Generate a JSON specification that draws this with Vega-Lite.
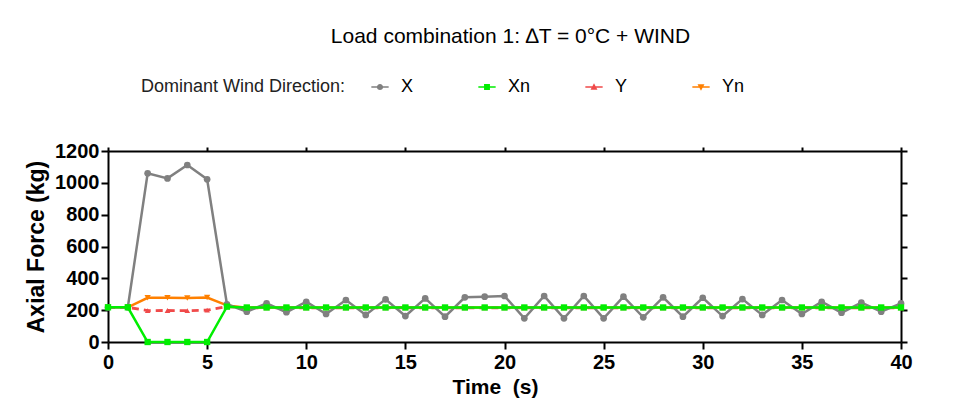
{
  "$schema": "https://vega.github.io/schema/vega-lite/v6.json",
  "width": 793,
  "height": 191,
  "autosize": {"type": "none"},
  "padding": {"left": 108, "top": 151, "right": 52, "bottom": 65},
  "background": "white",
  "title": {"text": "Load combination 1: ∆T = 0°C + WIND", "font": "Liberation Sans", "fontSize": 21, "fontWeight": "normal", "color": "black", "anchor": "middle", "offset": 31, "dx": 6},
  "data": {"values": [
    {"t": 0, "X": 218, "Xn": 218, "Y": 218, "Yn": 218},
    {"t": 1, "X": 218, "Xn": 218, "Y": 218, "Yn": 218},
    {"t": 2, "X": 1060, "Xn": 0, "Y": 197, "Yn": 278},
    {"t": 3, "X": 1028, "Xn": 0, "Y": 198, "Yn": 278},
    {"t": 4, "X": 1112, "Xn": 0, "Y": 197, "Yn": 277},
    {"t": 5, "X": 1022, "Xn": 0, "Y": 200, "Yn": 279},
    {"t": 6, "X": 237, "Xn": 222, "Y": 222, "Yn": 230},
    {"t": 7, "X": 190, "Xn": 217, "Y": 215, "Yn": 216},
    {"t": 8, "X": 243, "Xn": 217, "Y": 215, "Yn": 216},
    {"t": 9, "X": 187, "Xn": 217, "Y": 215, "Yn": 216},
    {"t": 10, "X": 253, "Xn": 217, "Y": 215, "Yn": 216},
    {"t": 11, "X": 176, "Xn": 217, "Y": 215, "Yn": 216},
    {"t": 12, "X": 264, "Xn": 217, "Y": 215, "Yn": 216},
    {"t": 13, "X": 170, "Xn": 217, "Y": 215, "Yn": 216},
    {"t": 14, "X": 268, "Xn": 217, "Y": 215, "Yn": 216},
    {"t": 15, "X": 163, "Xn": 217, "Y": 215, "Yn": 216},
    {"t": 16, "X": 274, "Xn": 217, "Y": 215, "Yn": 216},
    {"t": 17, "X": 159, "Xn": 217, "Y": 215, "Yn": 216},
    {"t": 18, "X": 281, "Xn": 217, "Y": 215, "Yn": 216},
    {"t": 19, "X": 285, "Xn": 217, "Y": 215, "Yn": 216},
    {"t": 20, "X": 289, "Xn": 217, "Y": 215, "Yn": 216},
    {"t": 21, "X": 149, "Xn": 217, "Y": 215, "Yn": 216},
    {"t": 22, "X": 289, "Xn": 217, "Y": 215, "Yn": 216},
    {"t": 23, "X": 149, "Xn": 217, "Y": 215, "Yn": 216},
    {"t": 24, "X": 289, "Xn": 217, "Y": 215, "Yn": 216},
    {"t": 25, "X": 149, "Xn": 217, "Y": 215, "Yn": 216},
    {"t": 26, "X": 285, "Xn": 217, "Y": 215, "Yn": 216},
    {"t": 27, "X": 155, "Xn": 217, "Y": 215, "Yn": 216},
    {"t": 28, "X": 281, "Xn": 217, "Y": 215, "Yn": 216},
    {"t": 29, "X": 159, "Xn": 217, "Y": 215, "Yn": 216},
    {"t": 30, "X": 278, "Xn": 217, "Y": 215, "Yn": 216},
    {"t": 31, "X": 163, "Xn": 217, "Y": 215, "Yn": 216},
    {"t": 32, "X": 270, "Xn": 217, "Y": 215, "Yn": 216},
    {"t": 33, "X": 170, "Xn": 217, "Y": 215, "Yn": 216},
    {"t": 34, "X": 264, "Xn": 217, "Y": 215, "Yn": 216},
    {"t": 35, "X": 176, "Xn": 217, "Y": 215, "Yn": 216},
    {"t": 36, "X": 253, "Xn": 217, "Y": 215, "Yn": 216},
    {"t": 37, "X": 184, "Xn": 217, "Y": 215, "Yn": 216},
    {"t": 38, "X": 247, "Xn": 217, "Y": 215, "Yn": 216},
    {"t": 39, "X": 190, "Xn": 217, "Y": 215, "Yn": 216},
    {"t": 40, "X": 243, "Xn": 217, "Y": 215, "Yn": 216}
  ]},
  "transform": [{"fold": ["X", "Xn", "Y", "Yn"], "as": ["series", "v"]}],
  "encoding": {
    "x": {"field": "t", "type": "quantitative", "scale": {"domain": [0, 40], "nice": false, "zero": false}},
    "y": {"field": "v", "type": "quantitative", "scale": {"domain": [0, 1200], "nice": false}}
  },
  "layer": [
    {
      "encoding": {
        "x": {"field": "t", "type": "quantitative", "title": "Time\u00a0 (s)",
          "axis": {"values": [0, 5, 10, 15, 20, 25, 30, 35, 40], "grid": false, "titlePadding": 4, "labelPadding": 3, "titleX": 387}},
        "y": {"field": "v", "type": "quantitative", "title": "Axial Force (kg)",
          "axis": {"values": [0, 200, 400, 600, 800, 1000, 1200], "grid": false, "titlePadding": 6, "format": "d", "labelPadding": 2, "titleFontSize": 23}},
        "color": {"field": "series", "type": "nominal",
          "scale": {"domain": ["X", "Xn", "Y", "Yn"], "range": ["#808080", "#00ee00", "#f04a4a", "#ff8000"]},
          "legend": {"title": "Dominant Wind Direction:",
            "encode": {"symbols": {"update": {
              "shape": {"signal": "datum.value === 'X' ? 'M-1,-0.1H1V0.1H-1Z M0.36,0 A0.36,0.36 0 1,1 -0.36,0 A0.36,0.36 0 1,1 0.36,0Z' : datum.value === 'Xn' ? 'M-1,-0.1H1V0.1H-1Z M-0.34,-0.34H0.34V0.34H-0.34Z' : datum.value === 'Y' ? 'M-1,-0.1H1V0.1H-1Z M0,-0.42L0.4,0.32H-0.4Z' : 'M-1,-0.1H1V0.1H-1Z M-0.4,-0.32H0.4L0,0.42Z'"},
              "fill": {"signal": "scale('color', datum.value)"},
              "fillOpacity": {"value": 1},
              "strokeWidth": {"value": 0},
              "size": {"value": 300}
            }}}}}
      },
      "layer": [
        {"transform": [{"filter": "datum.series === 'Yn'"}], "layer": [
          {"mark": {"type": "line", "strokeWidth": 2.5}},
          {"mark": {"type": "point", "shape": "triangle-down", "filled": true, "size": 40, "opacity": 1}}
        ]},
        {"transform": [{"filter": "datum.series === 'Y'"}], "layer": [
          {"mark": {"type": "line", "strokeWidth": 2.8, "strokeDash": [7, 5]}},
          {"mark": {"type": "point", "shape": "triangle-up", "filled": true, "size": 32, "opacity": 1}}
        ]},
        {"transform": [{"filter": "datum.series === 'X'"}], "layer": [
          {"mark": {"type": "line", "strokeWidth": 2.5}},
          {"mark": {"type": "point", "shape": "circle", "filled": true, "size": 45, "opacity": 1}}
        ]},
        {"transform": [{"filter": "datum.series === 'Xn'"}], "layer": [
          {"mark": {"type": "line", "strokeWidth": 2.5}},
          {"mark": {"type": "point", "shape": "square", "filled": true, "size": 40, "opacity": 1}}
        ]}
      ]
    },
    {
      "transform": [{"filter": "datum.series === 'Xn'"}],
      "mark": {"type": "point", "opacity": 0},
      "encoding": {
        "x": {"field": "t", "type": "quantitative", "axis": {"orient": "top", "labels": false, "title": null, "values": [0, 5, 10, 15, 20, 25, 30, 35, 40], "grid": false, "tickSize": 4}},
        "y": {"field": "v", "type": "quantitative", "axis": {"orient": "right", "labels": false, "title": null, "values": [0, 200, 400, 600, 800, 1000, 1200], "grid": false, "tickSize": 6}}
      }
    }
  ],
  "resolve": {"axis": {"x": "independent", "y": "independent"}},
  "config": {
    "view": {"stroke": null},
    "font": "Liberation Sans",
    "axis": {
      "domainColor": "black", "domainWidth": 2, "tickColor": "black", "tickWidth": 2, "tickSize": 7,
      "labelFont": "Liberation Sans", "labelFontSize": 20, "labelFontWeight": "bold", "labelColor": "black",
      "titleFont": "Liberation Sans", "titleFontSize": 21, "titleFontWeight": "bold", "titleColor": "black"
    },
    "axisX": {"labelFlush": false},
    "legend": {
      "orient": "none", "legendX": 33, "legendY": -73, "direction": "horizontal", "titleOrient": "left",
      "titleFont": "Liberation Sans", "titleFontSize": 18, "titleFontWeight": "normal", "titleColor": "#222", "titlePadding": 25, "titleLimit": 400,
      "labelFont": "Liberation Sans", "labelFontSize": 18, "labelColor": "black", "labelOffset": 12,
      "symbolSize": 300, "columnPadding": 54, "gridAlign": "all"
    }
  }
}
